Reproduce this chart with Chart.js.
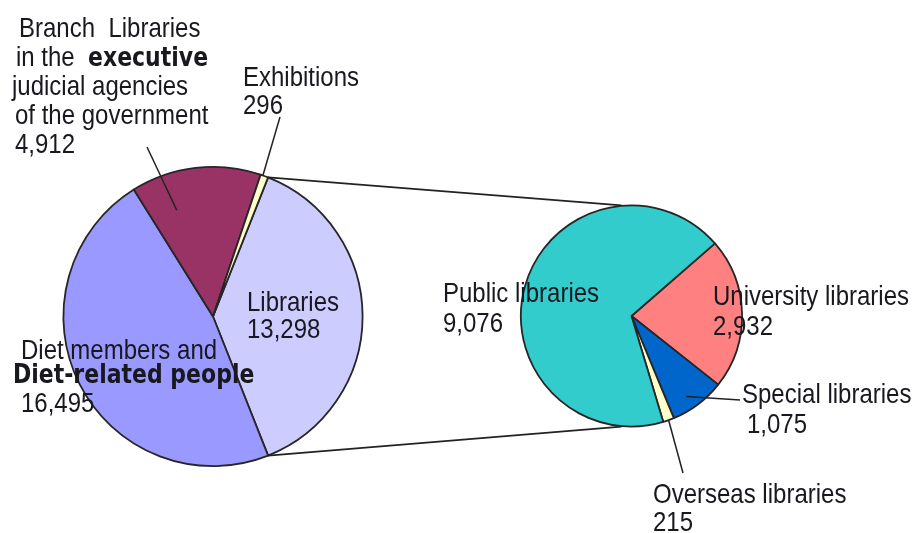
<!DOCTYPE html>
<html>
<head>
<meta charset="utf-8">
<script src="https://cdn.jsdelivr.net/npm/chart.js@4.4.1/dist/chart.umd.min.js"></script>
<style>
  body { margin: 0; background: #fff; }
  #wrap { position: relative; width: 917px; height: 533px; }
  #wrap canvas { position: absolute; left: 0; top: 0; }
</style>
</head>
<body>
<div id="wrap">
  <canvas id="main" width="917" height="533"></canvas>
  <canvas id="detail" width="917" height="533"></canvas>
</div>
<script>
// users by category; "Libraries" is broken out in the second pie
var mainLabels = ['Libraries', 'Diet members and Diet-related people',
                  'Branch Libraries in the executive judicial agencies of the government', 'Exhibitions'];
var mainValues = [13298, 16495, 4912, 296];
var mainColors = ['#ccccff', '#9999ff', '#993366', '#ffffcc'];

var detailLabels = ['University libraries', 'Special libraries', 'Overseas libraries', 'Public libraries'];
var detailValues = [2932, 1075, 215, 9076];
var detailColors = ['#ff8080', '#0066cc', '#ffffcc', '#33cccc'];

// label text, one array of runs per line ({b:1} = bold run); value line is appended
var mainText = [
  [['Libraries']],
  [['Diet members and'], [{t: 'Diet-related people', b: 1}]],
  [['Branch  Libraries'], ['in the  ', {t: 'executive', b: 1}], ['judicial agencies'], ['of the government']],
  [['Exhibitions']]
];
var detailText = [
  [['University libraries']],
  [['Special libraries']],
  [['Overseas libraries']],
  [['Public libraries']]
];

// where each label sits (x per line, first baseline, line step) and its leader line
var mainLayout = [
  {x: [247, 247], y: 311, step: 27},
  {x: [21, 13, 21], y: 359, step: [24, 29]},
  {x: [19, 16, 12, 15, 15], y: 37, step: 29, leader: {to: [147, 147], at: 0.26, r: 0.75}},
  {x: [243, 243], y: 86, step: 28, leader: {to: [280, 117], at: 0.3, r: 1.0}}
];
var detailLayout = [
  {x: [713, 713], y: 305, step: 30},
  {x: [742, 747], y: 403, step: 30, leader: {to: [740, 400], at: 0.6, r: 0.88}},
  {x: [653, 653], y: 503, step: 28, leader: {to: [683, 473], at: 0.5, r: 1.0}},
  {x: [443, 443], y: 302, step: 30}
];

var fmt = function(v) { return v.toLocaleString('en-US'); };
var NORMAL = '24px "Liberation Sans", Arial, sans-serif';
var BOLD = 'bold 22px "DejaVu Sans", Verdana, sans-serif';
var STRETCH = 1.17;   // labels are a bit taller than the font

function drawRun(ctx, text, bold, x, y) {
  ctx.font = bold ? BOLD : NORMAL;
  ctx.save();
  ctx.translate(x, y);
  ctx.scale(1, STRETCH);
  ctx.fillText(text, 0, 0);
  ctx.restore();
  return ctx.measureText(text).width;
}

var sliceLabels = {
  id: 'sliceLabels',
  afterDatasetsDraw: function(chart, args, opts) {
    var ctx = chart.ctx, arcs = chart.getDatasetMeta(0).data;
    var values = chart.data.datasets[0].data;
    ctx.save();
    ctx.fillStyle = '#18181f';
    ctx.textBaseline = 'alphabetic';
    opts.layout.forEach(function(lay, i) {
      var lines = opts.text[i].concat([[fmt(values[i])]]);
      var y = lay.y;
      lines.forEach(function(runs, j) {
        var x = lay.x[j];
        runs.forEach(function(run) {
          var t = typeof run === 'string' ? run : run.t;
          x += drawRun(ctx, t, typeof run !== 'string' && run.b, x, y);
        });
        y += Array.isArray(lay.step) ? lay.step[j] : lay.step;
      });
      if (lay.leader) {
        var a = arcs[i], L = lay.leader;
        var ang = a.startAngle + L.at * (a.endAngle - a.startAngle);
        ctx.beginPath();
        ctx.strokeStyle = '#222';
        ctx.lineWidth = 1.5;
        ctx.moveTo(L.to[0], L.to[1]);
        ctx.lineTo(a.x + Math.cos(ang) * a.outerRadius * L.r, a.y + Math.sin(ang) * a.outerRadius * L.r);
        ctx.stroke();
      }
    });
    ctx.restore();
  }
};

// lines from the broken-out slice to the top and bottom of the second pie
var connectors = {
  id: 'connectors',
  beforeDatasetsDraw: function(chart) {
    var src = Chart.getChart('main').getDatasetMeta(0).data[0];
    var dst = chart.getDatasetMeta(0).data[0];
    var ctx = chart.ctx;
    ctx.save();
    ctx.strokeStyle = '#222';
    ctx.lineWidth = 1.6;
    ctx.beginPath();
    ctx.moveTo(src.x + Math.cos(src.startAngle) * src.outerRadius, src.y + Math.sin(src.startAngle) * src.outerRadius);
    ctx.lineTo(dst.x - 10, dst.y - dst.outerRadius);
    ctx.moveTo(src.x + Math.cos(src.endAngle) * src.outerRadius, src.y + Math.sin(src.endAngle) * src.outerRadius);
    ctx.lineTo(dst.x - 10, dst.y + dst.outerRadius);
    ctx.stroke();
    ctx.restore();
  }
};

function pieOptions(padding, rotation, text, layout) {
  return {
    responsive: false,
    animation: false,
    devicePixelRatio: 1,
    events: [],
    rotation: rotation,
    layout: {padding: padding},
    plugins: {
      legend: {display: false},
      tooltip: {enabled: false},
      sliceLabels: {text: text, layout: layout}
    }
  };
}

// the split-out slice is centred on 3 o'clock
var libShare = mainValues[0] / mainValues.reduce(function(s, v) { return s + v; }, 0);

new Chart(document.getElementById('main'), {
  type: 'pie',
  data: {
    labels: mainLabels,
    datasets: [{data: mainValues, backgroundColor: mainColors, borderColor: '#262626', borderWidth: 1.8}]
  },
  options: pieOptions({left: 62, right: 553, top: 166, bottom: 66}, 90 - libShare * 180, mainText, mainLayout),
  plugins: [sliceLabels]
});

new Chart(document.getElementById('detail'), {
  type: 'pie',
  data: {
    labels: detailLabels,
    datasets: [{data: detailValues, backgroundColor: detailColors, borderColor: '#262626', borderWidth: 1.8}]
  },
  options: pieOptions({left: 520, right: 174, top: 204, bottom: 105}, 49, detailText, detailLayout),
  plugins: [connectors, sliceLabels]
});
</script>
</body>
</html>
